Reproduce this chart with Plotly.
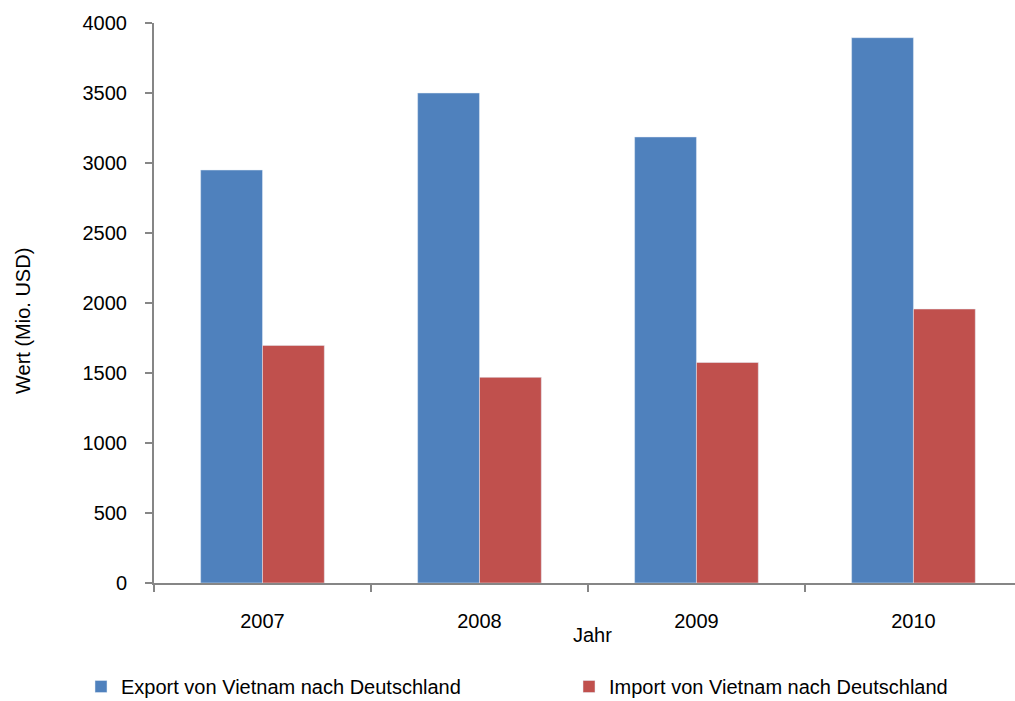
import plotly.graph_objects as go

# Trade values Vietnam <-> Germany, million USD
years = ["2007", "2008", "2009", "2010"]
export_values = [2950, 3500, 3186, 3895]
import_values = [1697, 1469, 1575, 1957]
y_ticks = [0, 500, 1000, 1500, 2000, 2500, 3000, 3500, 4000]

FONT = "Liberation Sans, Arial, sans-serif"
W, H = 1015, 701
ML, MR, MT, MB = 154, 0, 23, 118
PW = W - ML - MR
PH = H - MT - MB

fig = go.Figure()
fig.add_trace(go.Bar(
    x=years, y=export_values, name="Export von Vietnam nach Deutschland",
    marker=dict(color="#4F81BD"),
))
fig.add_trace(go.Bar(
    x=years, y=import_values, name="Import von Vietnam nach Deutschland",
    marker=dict(color="#C0504D"),
))


def px_x(p):
    return (p - ML) / PW


def px_y(p):
    return (H - MB - p) / PH


fig.update_layout(
    width=W, height=H,
    margin=dict(l=ML, r=MR, t=MT, b=MB, autoexpand=False),
    paper_bgcolor="white", plot_bgcolor="white",
    font=dict(family=FONT, size=20, color="black"),
    barmode="group", bargap=0.43, bargroupgap=0,
    showlegend=True,
    legend=dict(
        orientation="h", x=px_x(81), y=px_y(667), xanchor="left", yanchor="top",
        entrywidth=443, entrywidthmode="pixels", itemwidth=30,
        font=dict(family=FONT, size=20, color="black"),
        bgcolor="rgba(0,0,0,0)",
    ),
    xaxis=dict(
        type="category", range=[-0.5, 3.468],
        showline=True, linecolor="#868686", linewidth=2,
        ticks="outside", ticklen=7, tickcolor="#868686", tickwidth=1.5,
        tickson="boundaries", showgrid=False, zeroline=False,
        ticklabelstandoff=19,
    ),
    yaxis=dict(
        range=[0, 4000], tickvals=y_ticks,
        showline=True, linecolor="#868686", linewidth=2,
        ticks="outside", ticklen=7, tickcolor="#868686", tickwidth=1.5,
        showgrid=False, zeroline=False,
        ticklabelstandoff=14,
    ),
    annotations=[
        dict(
            text="Wert (Mio. USD)", textangle=-90,
            xref="paper", yref="paper", x=px_x(23), y=px_y(321),
            xanchor="center", yanchor="middle", showarrow=False,
            font=dict(family=FONT, size=20, color="black"),
        ),
        dict(
            text="Jahr",
            xref="paper", yref="paper", x=px_x(592), y=px_y(635),
            xanchor="center", yanchor="middle", showarrow=False,
            font=dict(family=FONT, size=20, color="black"),
        ),
    ],
)

fig.write_html("out.html")
